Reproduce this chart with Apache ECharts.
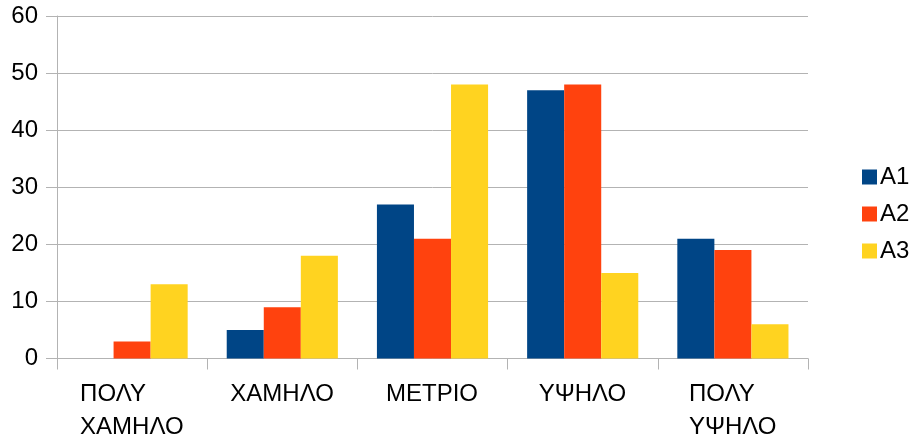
<!DOCTYPE html>
<html>
<head>
<meta charset="utf-8">
<script src="https://cdn.jsdelivr.net/npm/echarts@6/dist/echarts.min.js"></script>
<style>
  html, body { margin: 0; padding: 0; background: #fff; }
  #chart { width: 915px; height: 439px; }
</style>
</head>
<body>
<div id="chart"></div>
<script>
const categories = ['ΠΟΛΥ\nΧΑΜΗΛΟ', 'ΧΑΜΗΛΟ', 'ΜΕΤΡΙΟ', 'ΥΨΗΛΟ', 'ΠΟΛΥ\nΥΨΗΛΟ']
const seriesNames = ['A1', 'A2', 'A3']
const a1 = [0, 5, 27, 47, 21]
const a2 = [3, 9, 21, 48, 19]
const a3 = [13, 18, 48, 15, 6]
const colors = ['#004586', '#ff420e', '#ffd320']

const FONT = '"Liberation Sans", Arial, sans-serif'
const FONT_SIZE = 24

// multi-line labels are left aligned inside a block centred under the category
const ctx = document.createElement('canvas').getContext('2d')
ctx.font = FONT_SIZE + 'px "Liberation Sans"'
const rich = {}
categories.forEach((label, i) => {
  const w = Math.max(...label.split('\n').map(line => ctx.measureText(line).width))
  rich['c' + i] = { width: Math.ceil(w), align: 'left', fontSize: FONT_SIZE, lineHeight: 33, fontFamily: FONT, color: '#000' }
})

const chart = echarts.init(document.getElementById('chart'))
chart.setOption({
  animation: false,
  color: colors,
  grid: { left: 57, right: 107, top: 16, bottom: 80 },
  legend: {
    orient: 'vertical',
    left: 857,
    top: 160,
    itemWidth: 15,
    itemHeight: 15,
    itemGap: 13,
    itemStyle: { borderWidth: 0 },
    icon: 'rect',
    data: seriesNames,
    textStyle: { fontSize: FONT_SIZE, fontFamily: FONT, color: '#000', padding: [0, 0, 0, -2] },
  },
  xAxis: {
    type: 'category',
    data: categories,
    axisLine: { lineStyle: { color: '#b3b3b3', width: 1 } },
    axisTick: { show: true, length: 11, lineStyle: { color: '#b3b3b3' } },
    axisLabel: {
      margin: 19,
      interval: 0,
      formatter: (value, index) => value.split('\n').map(line => `{c${index}|${line}}`).join('\n'),
      rich,
    },
  },
  yAxis: {
    type: 'value',
    min: 0,
    max: 60,
    interval: 10,
    axisLine: { show: true, lineStyle: { color: '#b3b3b3', width: 1 } },
    axisTick: { show: true, length: 11, lineStyle: { color: '#b3b3b3' } },
    axisLabel: { margin: 19, fontSize: FONT_SIZE, fontFamily: FONT, color: '#000' },
    splitLine: { lineStyle: { color: '#b3b3b3', width: 1 } },
  },
  series: [a1, a2, a3].map((data, i) => ({
    name: seriesNames[i],
    type: 'bar',
    data,
    barGap: 0,
    barCategoryGap: '26%',
  })),
})
</script>
</body>
</html>
